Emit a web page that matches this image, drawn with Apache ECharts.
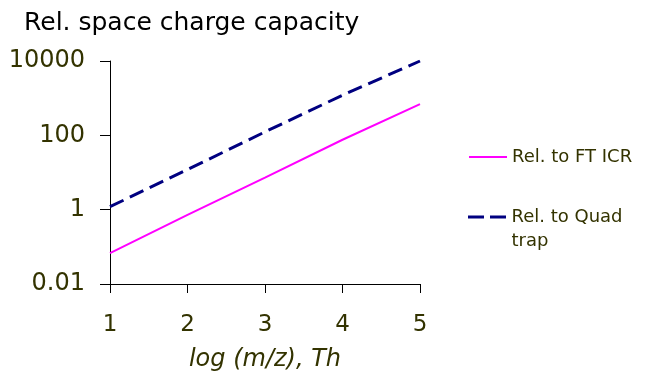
<!DOCTYPE html>
<html>
<head>
<meta charset="utf-8">
<script src="https://cdn.jsdelivr.net/npm/echarts@6/dist/echarts.min.js"></script>
<style>
  html, body { margin: 0; padding: 0; background: #fff; }
  #chart { width: 656px; height: 372px; }
</style>
</head>
<body>
<div id="chart"></div>
<script>
// values
const xValues = [1, 2, 3, 4, 5];
const ftIcr = [0.068, 0.72, 7.3, 76, 690];
const quadTrap = [1.2, 12, 124, 1200, 10000];
const seriesNames = ["Rel. to FT ICR", "Rel. to Quad trap"];

const labelColor = "#333300";
const font = "DejaVu Sans";
const chart = echarts.init(document.getElementById("chart"));

const legendText = { fontFamily: font, fontSize: 18, color: labelColor, lineHeight: 24 };

chart.setOption({
  animation: false,
  title: {
    text: "Rel. space charge capacity",
    left: 19,
    top: 6,
    textStyle: {
      fontFamily: font,
      fontSize: 25,
      fontWeight: "normal",
      color: "#000"
    }
  },
  grid: { left: 110, right: 236, top: 61, bottom: 88, outerBoundsMode: "none" },
  legend: [
    {
      left: 469,
      top: 145,
      padding: 0,
      itemWidth: 38,
      itemHeight: 2,
      data: [{ name: seriesNames[0], icon: "rect" }],
      textStyle: legendText
    },
    {
      left: 468,
      top: 181,
      padding: 0,
      itemWidth: 39,
      itemHeight: 3,
      data: [{ name: seriesNames[1], icon: "path://M0 0H16V3H0Z M22 0H38V3H22Z" }],
      // leading empty line keeps the first text line level with the icon
      formatter: function (name) {
        return "\n" + name.replace(" trap", "\ntrap");
      },
      textStyle: legendText
    }
  ],
  xAxis: {
    type: "value",
    min: 1,
    max: 5,
    interval: 1,
    name: "log (m/z), Th",
    nameLocation: "middle",
    nameGap: 64,
    nameTextStyle: {
      fontFamily: font,
      fontSize: 24,
      fontStyle: "italic",
      color: labelColor
    },
    axisLine: { lineStyle: { color: "#000", width: 1 } },
    axisTick: { length: 9, lineStyle: { color: "#000" } },
    axisLabel: {
      margin: 30,
      fontFamily: font,
      fontSize: 23,
      color: labelColor
    },
    splitLine: { show: false }
  },
  yAxis: {
    type: "log",
    logBase: 10,
    min: 0.01,
    max: 10000,
    interval: 2,
    axisLine: { show: true, lineStyle: { color: "#000", width: 1 } },
    axisTick: { show: true, length: 10, lineStyle: { color: "#000" } },
    axisLabel: {
      margin: 25,
      fontFamily: font,
      fontSize: 24,
      color: labelColor,
      formatter: function (v) {
        return v < 1 ? v.toFixed(2) : String(Math.round(v));
      }
    },
    minorTick: { show: false },
    splitLine: { show: false }
  },
  series: [
    {
      name: seriesNames[0],
      type: "line",
      symbol: "none",
      data: xValues.map((x, i) => [x, ftIcr[i]]),
      lineStyle: { color: "#ff00ff", width: 2 },
      itemStyle: { color: "#ff00ff" }
    },
    {
      name: seriesNames[1],
      type: "line",
      symbol: "none",
      data: xValues.map((x, i) => [x, quadTrap[i]]),
      lineStyle: { color: "#000080", width: 3, type: [15, 7] },
      itemStyle: { color: "#000080" }
    }
  ]
});
</script>
</body>
</html>
